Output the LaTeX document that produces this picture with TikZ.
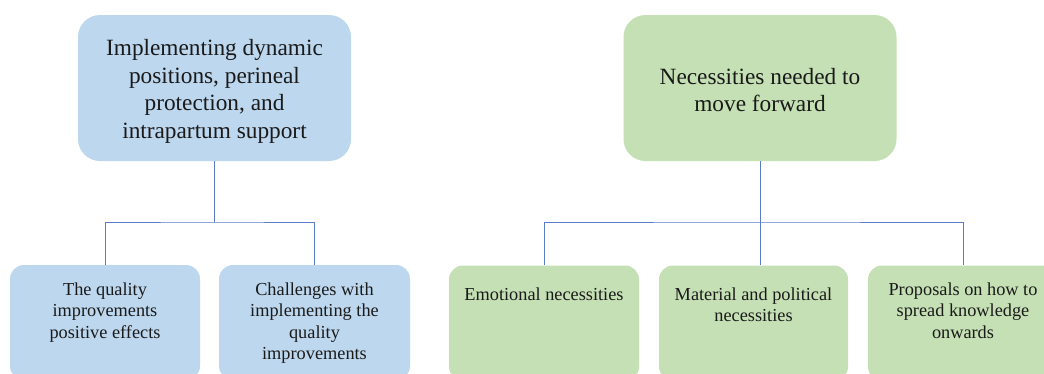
\documentclass[tikz,border=0pt]{standalone}
\usepackage{fontspec}
\setmainfont{Liberation Serif}
\definecolor{bluebox}{HTML}{BDD7EE}
\definecolor{greenbox}{HTML}{C5E0B4}
\definecolor{linkblue}{HTML}{5B7BC9}
\definecolor{txt}{HTML}{1A1A1A}
\tikzset{
  topbox/.style={rectangle, rounded corners=22pt, draw=none, inner sep=0pt},
  childbox/.style={rectangle, rounded corners=14pt, draw=none, inner sep=0pt},
  toptext/.style={align=center, text=txt, inner sep=0pt, font=\fontsize{23.3}{27.5}\selectfont},
  childtext/.style={align=center, text=txt, inner sep=0pt, font=\fontsize{18.3}{21.5}\selectfont},
  link/.style={draw=linkblue, line width=0.9pt}
}
\begin{document}
\begin{tikzpicture}[x=1pt,y=-1pt]
\useasboundingbox (0,0) rectangle (1044,373);
\clip (0,0) rectangle (1044,373);
\fill[white] (0,0) rectangle (1044,373);
% blue tree
\node[topbox, fill=bluebox, minimum width=273pt, minimum height=146pt] (bt) at (214.5,88) {};
\node[toptext] (btt) at (214.5,91.5) {Implementing dynamic\\positions, perineal\\protection, and\\intrapartum support};
\node[childbox, fill=bluebox, minimum width=190pt, minimum height=115pt] (b1) at (105,322.5) {};
\node[childbox, fill=bluebox, minimum width=191pt, minimum height=115pt] (b2) at (314.5,322.5) {};
\node[childtext, anchor=base] (b1t) at (105,338) {The quality\\improvements\\positive effects};
\node[childtext, anchor=base] (b2t) at (314.5,359.5) {Challenges with\\implementing the\\quality\\improvements};
\coordinate (bj) at (214.5,222);
\draw[link] (bt.south) -- (bj);
\draw[link] (b1.north) |- (bj) -| (b2.north);
% green tree
\node[topbox, fill=greenbox, minimum width=273pt, minimum height=146pt] (gt) at (760,88) {};
\node[toptext] (gtt) at (760,90) {Necessities needed to\\move forward};
\node[childbox, fill=greenbox, minimum width=190pt, minimum height=115pt] (g1) at (544,323) {};
\node[childbox, fill=greenbox, minimum width=189pt, minimum height=115pt] (g2) at (753.5,323) {};
\node[childbox, fill=greenbox, minimum width=190pt, minimum height=115pt] (g3) at (963,323) {};
\node[childtext, anchor=base] (g1t) at (544,300) {Emotional necessities};
\node[childtext, anchor=base] (g2t) at (753.5,321.5) {Material and political\\necessities};
\node[childtext, anchor=base] (g3t) at (963,338) {Proposals on how to\\spread knowledge\\onwards};
\coordinate (gj) at (760,222);
\draw[link] (gt.south) -- (gt.south |- g2.north);
\draw[link] (g1.north) |- (gj) -| (g3.north);
\end{tikzpicture}
\end{document}
